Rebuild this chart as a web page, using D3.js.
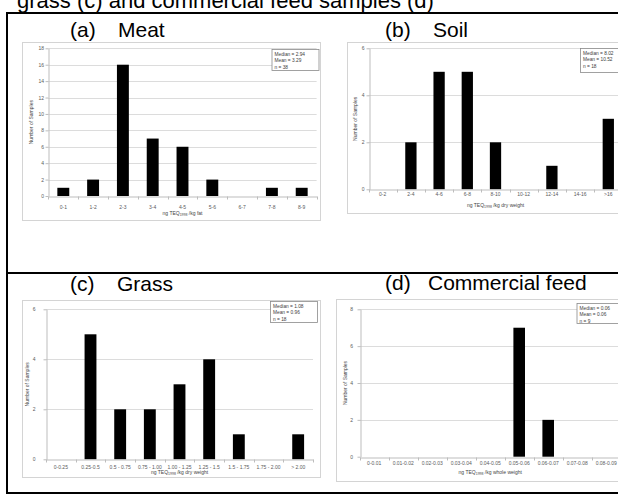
<!DOCTYPE html>
<html>
<head>
<meta charset="utf-8">
<script src="https://cdnjs.cloudflare.com/ajax/libs/d3/7.8.5/d3.min.js"></script>
<style>
  body { margin: 0; background: #ffffff; }
  svg { display: block; }
  .tick text { font-family: "Liberation Sans", Arial, sans-serif; font-size: 5px; fill: #5a5a5a; }
</style>
</head>
<body>
<div id="figure"></div>
<script>
// ----------------------------------------------------------------------------------------------------
// DATA
// ----------------------------------------------------------------------------------------------------

var meatCategories = ["0-1", "1-2", "2-3", "3-4", "4-5", "5-6", "6-7", "7-8", "8-9"];
var meatCounts = [1, 2, 16, 7, 6, 2, 0, 1, 1];
var meatTicks = [0, 2, 4, 6, 8, 10, 12, 14, 16, 18];
var meatStats = ["Median = 2.94", "Mean = 3.29", "n = 38"];

var soilCategories = ["0-2", "2-4", "4-6", "6-8", "8-10", "10-12", "12-14", "14-16", ">16"];
var soilCounts = [0, 2, 5, 5, 2, 0, 1, 0, 3];
var soilTicks = [0, 2, 4, 6];
var soilStats = ["Median = 8.02", "Mean = 10.52", "n = 18"];

var grassCategories = ["0-0.25", "0.25-0.5", "0.5 - 0.75", "0.75 - 1.00", "1.00 - 1.25", "1.25 - 1.5", "1.5 - 1.75", "1.75 - 2.00", "> 2.00"];
var grassCounts = [0, 5, 2, 2, 3, 4, 1, 0, 1];
var grassTicks = [0, 2, 4, 6];
var grassStats = ["Median = 1.08", "Mean = 0.96", "n = 18"];

var feedCategories = ["0-0.01", "0.01-0.02", "0.02-0.03", "0.03-0.04", "0.04-0.05", "0.05-0.06", "0.06-0.07", "0.07-0.08", "0.08-0.09"];
var feedCounts = [0, 0, 0, 0, 0, 7, 2, 0, 0];
var feedTicks = [0, 2, 4, 6, 8];
var feedStats = ["Median = 0.06", "Mean = 0.06", "n = 9"];

// ----------------------------------------------------------------------------------------------------
// LAYOUT
// ----------------------------------------------------------------------------------------------------

var W = 618, H = 495;
var labelFont = "'Liberation Sans', Arial, sans-serif";

var svg = d3.select("#figure")
    .append("svg")
    .attr("width", W)
    .attr("height", H);

svg.append("rect").attr("width", W).attr("height", H).attr("fill", "#ffffff");

// caption (cut at the top of the page, as in the source)
svg.append("text")
    .attr("x", 17)
    .attr("y", 7.5)
    .attr("font-family", labelFont)
    .attr("font-size", "22px")
    .attr("fill", "#000")
    .text("grass (c) and commercial feed samples (d)");

// table rules
var rules = [
    [6, 13, W, 13],
    [7, 12, 7, 494],
    [6, 273, W, 273],
    [6, 493, W, 493]
];
svg.selectAll(".rule")
    .data(rules)
    .enter()
    .append("line")
    .attr("class", "rule")
    .attr("x1", function(d) { return d[0]; })
    .attr("y1", function(d) { return d[1]; })
    .attr("x2", function(d) { return d[2]; })
    .attr("y2", function(d) { return d[3]; })
    .attr("stroke", "#000")
    .attr("stroke-width", 2);

// ----------------------------------------------------------------------------------------------------
// CONTROLS - HISTOGRAM PANEL
// ----------------------------------------------------------------------------------------------------

function histogram_Draw(p, categories, counts, ticks, stats, unit) {
    var g = svg.append("g");

    // panel label
    g.append("text")
        .attr("x", p.labelX)
        .attr("y", p.labelY)
        .attr("font-family", labelFont)
        .attr("font-size", "21px")
        .text(p.tag);
    g.append("text")
        .attr("x", p.nameX)
        .attr("y", p.labelY)
        .attr("font-family", labelFont)
        .attr("font-size", "21px")
        .text(p.name);

    // chart frame
    g.append("rect")
        .attr("x", p.frame[0])
        .attr("y", p.frame[1])
        .attr("width", p.frame[2] - p.frame[0])
        .attr("height", p.frame[3] - p.frame[1])
        .attr("fill", "#fff")
        .attr("stroke", "#d4d4d4")
        .attr("stroke-width", 1);

    var x = d3.scaleBand()
        .domain(categories)
        .range([p.left, p.right])
        .paddingInner(0.6)
        .paddingOuter(0.3);

    var y = d3.scaleLinear()
        .domain([0, ticks[ticks.length - 1]])
        .range([p.y0, p.yTop]);

    // gridlines
    g.selectAll(".grid")
        .data(ticks.slice(1))
        .enter()
        .append("line")
        .attr("x1", p.left)
        .attr("x2", p.right)
        .attr("y1", function(d) { return Math.round(y(d)) + 0.5; })
        .attr("y2", function(d) { return Math.round(y(d)) + 0.5; })
        .attr("stroke", "#dcdcdc")
        .attr("stroke-width", 1);

    // y axis
    var yAxis = g.append("g")
        .attr("transform", "translate(" + (Math.round(p.left) + 0.5) + ",0)")
        .call(d3.axisLeft(y).tickValues(ticks).tickFormat(d3.format("d")).tickSize(3).tickPadding(p.yPad).tickSizeOuter(0));
    yAxis.select(".domain").attr("stroke", "#bdbdbd");
    yAxis.selectAll(".tick line").attr("stroke", "#bdbdbd");

    // bars
    g.selectAll(".bar")
        .data(counts)
        .enter()
        .append("rect")
        .attr("class", "bar")
        .attr("x", function(d, i) { return x(categories[i]); })
        .attr("y", function(d) { return y(d); })
        .attr("width", x.bandwidth())
        .attr("height", function(d) { return y(0) - y(d); })
        .attr("fill", "#000");

    // x axis
    var xAxis = g.append("g")
        .attr("transform", "translate(0," + (Math.round(p.y0) + 0.5) + ")")
        .call(d3.axisBottom(x).tickSize(0).tickPadding(p.xPad).tickSizeOuter(0));
    xAxis.select(".domain").attr("stroke", "#bdbdbd");

    var edges = categories.map(function(c) { return x(c) + x.bandwidth() / 2 - x.step() / 2; });
    edges.push(edges[edges.length - 1] + x.step());
    xAxis.selectAll(".edge")
        .data(edges)
        .enter()
        .append("line")
        .attr("x1", function(d) { return Math.round(d) + 0.5; })
        .attr("x2", function(d) { return Math.round(d) + 0.5; })
        .attr("y1", 0)
        .attr("y2", 3)
        .attr("stroke", "#bdbdbd");

    // axis titles
    var xt = g.append("text")
        .attr("x", (p.left + p.right) / 2)
        .attr("y", p.xTitleY)
        .attr("text-anchor", "middle")
        .attr("font-family", labelFont)
        .attr("font-size", "5px")
        .attr("fill", "#444");
    xt.append("tspan").text("ng TEQ");
    xt.append("tspan").attr("font-size", "3.5px").attr("dy", 1.2).text("1998");
    xt.append("tspan").attr("dy", -1.2).text(" /kg " + unit);

    g.append("text")
        .attr("transform", "translate(" + p.yTitleX + "," + ((p.y0 + p.yTop) / 2) + ") rotate(-90)")
        .attr("text-anchor", "middle")
        .attr("dy", "0.35em")
        .attr("font-family", labelFont)
        .attr("font-size", "5px")
        .attr("fill", "#444")
        .text("Number of Samples");

    // stats box
    g.append("rect")
        .attr("x", p.box[0] + 0.5)
        .attr("y", p.box[1] + 0.5)
        .attr("width", p.box[2])
        .attr("height", p.box[3])
        .attr("fill", "#fff")
        .attr("stroke", "#8a8a8a")
        .attr("stroke-width", 0.8);
    g.selectAll(".stat")
        .data(stats)
        .enter()
        .append("text")
        .attr("x", p.box[0] + 3)
        .attr("y", function(d, i) { return p.box[1] + 6.5 + i * 6.6; })
        .attr("font-family", labelFont)
        .attr("font-size", "4.8px")
        .attr("fill", "#3c3c3c")
        .text(function(d) { return d; });
}

histogram_Draw({
    tag: "(a)", name: "Meat", labelX: 70, nameX: 118, labelY: 37,
    frame: [22.5, 42.5, 320.5, 220.5],
    left: 48.4, right: 316.6, yTop: 48.3, y0: 196,
    yPad: 1.5, xPad: 9, yTitleX: 31.7, xTitleY: 214.5,
    box: [271.5, 49, 47, 21]
}, meatCategories, meatCounts, meatTicks, meatStats, "fat");

histogram_Draw({
    tag: "(b)", name: "Soil", labelX: 385, nameX: 433, labelY: 37,
    frame: [347.5, 42.5, 660, 213.5],
    left: 368.6, right: 622.4, yTop: 48.3, y0: 189.3,
    yPad: 2, xPad: 3, yTitleX: 355, xTitleY: 206.5,
    box: [580, 48, 45, 24]
}, soilCategories, soilCounts, soilTicks, soilStats, "dry weight");

histogram_Draw({
    tag: "(c)", name: "Grass", labelX: 70, nameX: 117, labelY: 290.5,
    frame: [22.5, 300.5, 320.5, 477.5],
    left: 46, right: 313, yTop: 309.3, y0: 459.3,
    yPad: 8, xPad: 5.5, yTitleX: 27.3, xTitleY: 474,
    box: [270, 301, 47, 21]
}, grassCategories, grassCounts, grassTicks, grassStats, "dry weight");

histogram_Draw({
    tag: "(d)", name: "Commercial feed", labelX: 385, nameX: 428, labelY: 290,
    frame: [336.5, 299.5, 660, 481.5],
    left: 359.7, right: 620.7, yTop: 309.3, y0: 456.7,
    yPad: 4.5, xPad: 3.5, yTitleX: 345, xTitleY: 473.5,
    box: [576.5, 303, 45, 20]
}, feedCategories, feedCounts, feedTicks, feedStats, "whole weight");
</script>
</body>
</html>
